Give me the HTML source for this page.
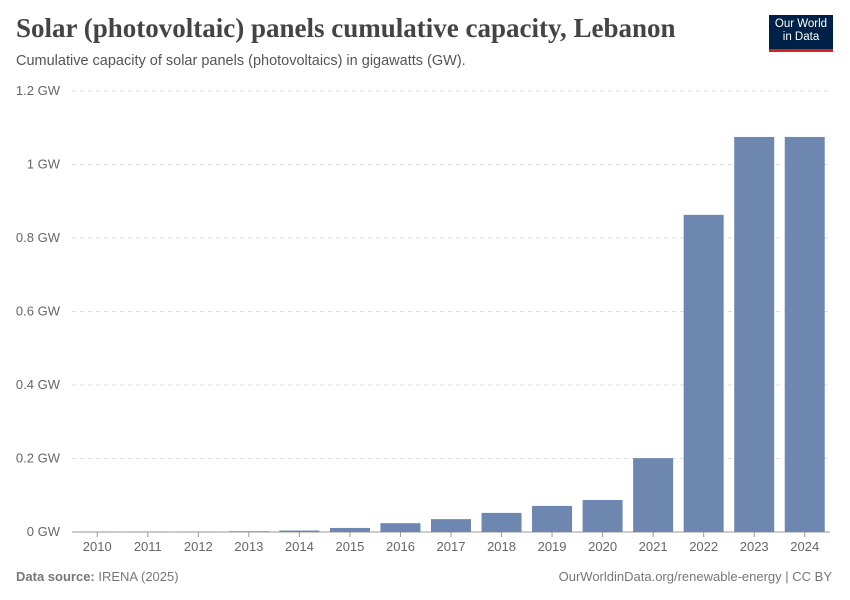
<!DOCTYPE html>
<html><head><meta charset="utf-8"><style>
body{margin:0;background:#fff;font-family:"Liberation Sans",sans-serif;}
#wrap{position:relative;width:850px;height:600px;overflow:hidden;}
.title{position:absolute;left:16px;top:13px;font-family:"Liberation Serif",serif;font-size:27px;font-weight:bold;color:#444;letter-spacing:0px}
.sub{position:absolute;left:16px;top:53px;font-size:14.5px;color:#555}
.logo{position:absolute;left:769px;top:15px;width:64px;height:37px;background:#002147;color:#fff;font-size:11.5px;line-height:13px;text-align:center;padding-top:3px;box-sizing:border-box;border-bottom:3px solid #ce261e}
.foot{position:absolute;top:569px;font-size:13px;color:#777}
</style></head><body>
<div id="wrap">
<div class="title">Solar (photovoltaic) panels cumulative capacity, Lebanon</div>
<div class="sub">Cumulative capacity of solar panels (photovoltaics) in gigawatts (GW).</div>
<div class="logo">Our World<br>in Data</div>
<svg id="chart" width="850" height="600" style="position:absolute;left:0;top:0"></svg>
<div class="foot" style="left:16px"><b>Data source:</b> IRENA (2025)</div>
<div class="foot" style="right:18px">OurWorldinData.org/renewable-energy | CC BY</div>
</div>
<script>
const years=["2010","2011","2012","2013","2014","2015","2016","2017","2018","2019","2020","2021","2022","2023","2024"];
const values=[0.0005,0.001,0.001,0.002,0.004,0.011,0.024,0.035,0.052,0.071,0.087,0.201,0.863,1.075,1.075];
const ticks=[0,0.2,0.4,0.6,0.8,1,1.2];
const tickLabels=["0 GW","0.2 GW","0.4 GW","0.6 GW","0.8 GW","1 GW","1.2 GW"];
const svg=document.getElementById('chart');const NS="http://www.w3.org/2000/svg";
const y0=532,y1=91,left=72,right=830;
const y=v=>y0-(v/1.2)*(y0-y1);
const step=(right-left)/years.length;
const x=i=>left+step*(i+0.5);
function mk(t,a){const e=document.createElementNS(NS,t);for(const k in a)e.setAttribute(k,a[k]);svg.appendChild(e);return e;}
ticks.forEach((t,i)=>{
 const l=mk('line',{x1:left,x2:right,y1:y(t),y2:y(t),stroke:'#ddd','stroke-dasharray':i?'4,4':'none'});
 
 
 const tx=mk('text',{x:60,y:y(t)+4,'text-anchor':'end','font-size':13,fill:'#666','font-family':'Liberation Sans'});
 tx.textContent=tickLabels[i];
 
 
});
mk('line',{x1:left,x2:right,y1:y0,y2:y0,stroke:'#999'});
years.forEach((yr,i)=>{
 const b=mk('rect',{x:x(i)-20,width:40,y:y(values[i]),height:y0-y(values[i]),fill:'#6d87b0'});
 
 
 mk('line',{x1:x(i),x2:x(i),y1:y0,y2:y0+5,stroke:'#999'});
 const tx=mk('text',{x:x(i),y:551,'text-anchor':'middle','font-size':13,fill:'#666','font-family':'Liberation Sans'});
 tx.textContent=yr;
 
 
});
</script>
</body></html>
